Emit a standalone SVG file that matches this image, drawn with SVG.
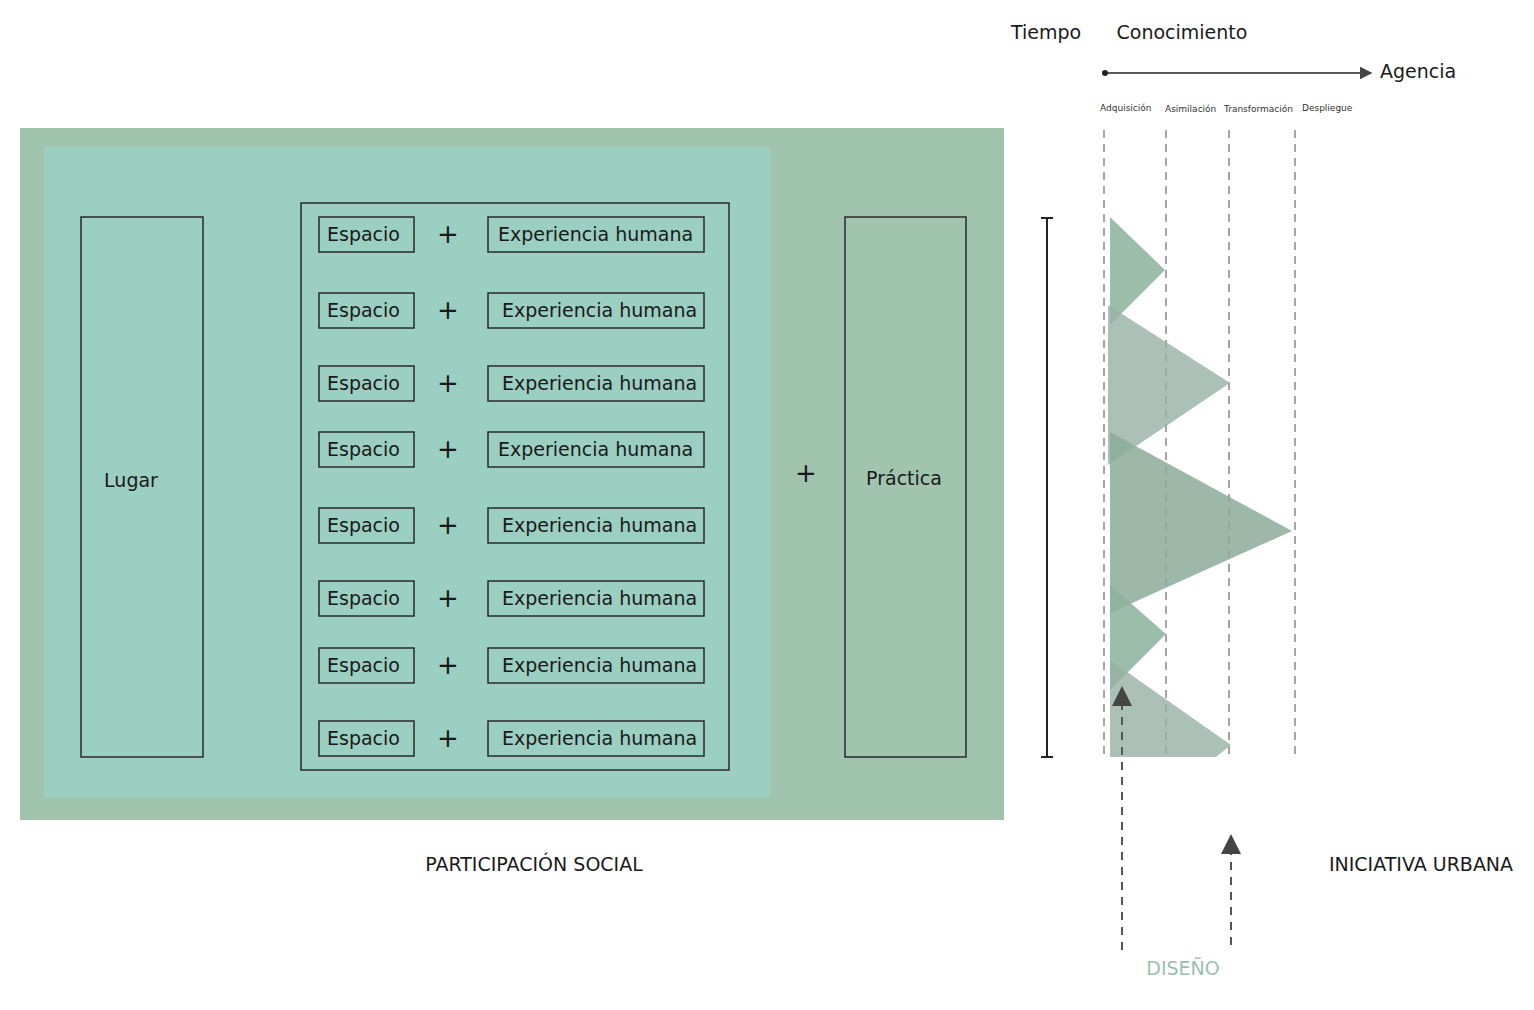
<svg xmlns="http://www.w3.org/2000/svg" width="1534" height="1010" viewBox="0 0 1534 1010">
<style>
text{font-family:"DejaVu Sans","Noto Sans",sans-serif;fill:#1a1a1a}
.b{fill:none;stroke:#2a2a2a;stroke-width:1.5}
.t{font-size:19px}
.p{font-size:26px;text-anchor:middle}
.s{font-size:9px;fill:#333}
.d{stroke:#888;stroke-width:1.5;stroke-dasharray:8 6;fill:none}
.a{stroke:#555;stroke-width:2;stroke-dasharray:8 7;fill:none}
</style>
<defs><marker id="ar" markerWidth="10" markerHeight="10" refX="5" refY="5" orient="auto"><path d="M0,0L10,5L0,10z" fill="#444"/></marker></defs>
<g id="background"><rect x="20" y="128" width="984" height="692" fill="#a0c4ae"/><rect x="44" y="147" width="726" height="650" fill="#9bcfc1"/></g>
<g id="lugar"><rect class="b" x="81" y="217" width="122" height="540"/><text class="t" x="131" y="487" text-anchor="middle">Lugar</text></g>
<g id="grupo"><rect class="b" x="301" y="203" width="428" height="567"/></g>
<g id="filas">
<g transform="translate(0,234)"><rect class="b" x="319" y="-17" width="95" height="35"/><text class="t" x="327" y="7">Espacio</text><text class="p" x="448" y="9">+</text><rect class="b" x="488" y="-17" width="216" height="35"/><text class="t" x="498" y="7">Experiencia humana</text></g>
<g transform="translate(0,310)"><rect class="b" x="319" y="-17" width="95" height="35"/><text class="t" x="327" y="7">Espacio</text><text class="p" x="448" y="9">+</text><rect class="b" x="488" y="-17" width="216" height="35"/><text class="t" x="502" y="7">Experiencia humana</text></g>
<g transform="translate(0,383)"><rect class="b" x="319" y="-17" width="95" height="35"/><text class="t" x="327" y="7">Espacio</text><text class="p" x="448" y="9">+</text><rect class="b" x="488" y="-17" width="216" height="35"/><text class="t" x="502" y="7">Experiencia humana</text></g>
<g transform="translate(0,449)"><rect class="b" x="319" y="-17" width="95" height="35"/><text class="t" x="327" y="7">Espacio</text><text class="p" x="448" y="9">+</text><rect class="b" x="488" y="-17" width="216" height="35"/><text class="t" x="498" y="7">Experiencia humana</text></g>
<g transform="translate(0,525)"><rect class="b" x="319" y="-17" width="95" height="35"/><text class="t" x="327" y="7">Espacio</text><text class="p" x="448" y="9">+</text><rect class="b" x="488" y="-17" width="216" height="35"/><text class="t" x="502" y="7">Experiencia humana</text></g>
<g transform="translate(0,598)"><rect class="b" x="319" y="-17" width="95" height="35"/><text class="t" x="327" y="7">Espacio</text><text class="p" x="448" y="9">+</text><rect class="b" x="488" y="-17" width="216" height="35"/><text class="t" x="502" y="7">Experiencia humana</text></g>
<g transform="translate(0,665)"><rect class="b" x="319" y="-17" width="95" height="35"/><text class="t" x="327" y="7">Espacio</text><text class="p" x="448" y="9">+</text><rect class="b" x="488" y="-17" width="216" height="35"/><text class="t" x="502" y="7">Experiencia humana</text></g>
<g transform="translate(0,738)"><rect class="b" x="319" y="-17" width="95" height="35"/><text class="t" x="327" y="7">Espacio</text><text class="p" x="448" y="9">+</text><rect class="b" x="488" y="-17" width="216" height="35"/><text class="t" x="502" y="7">Experiencia humana</text></g>
</g>
<g id="plus"><text class="p" x="806" y="482">+</text></g>
<g id="practica"><rect class="b" x="845" y="217" width="121" height="540"/><text class="t" x="904" y="485" text-anchor="middle">Práctica</text></g>
<g id="labels"><text class="t" x="534" y="871" text-anchor="middle">PARTICIPACIÓN SOCIAL</text><text class="t" x="1421" y="871" text-anchor="middle">INICIATIVA URBANA</text><text class="t" x="1183" y="975" text-anchor="middle" fill="#9bbfae" style="fill:#9bbfae">DISEÑO</text>
<text class="t" x="1046" y="39" text-anchor="middle">Tiempo</text><text class="t" x="1182" y="39" text-anchor="middle">Conocimiento</text><text class="t" x="1380" y="78">Agencia</text>
<text class="s" x="1100" y="111">Adquisición</text><text class="s" x="1165" y="112">Asimilación</text><text class="s" x="1224" y="112">Transformación</text><text class="s" x="1302" y="111">Despliegue</text></g>
<g id="chart">
<line class="d" x1="1104" y1="130" x2="1104" y2="757"/><line class="d" x1="1166" y1="130" x2="1166" y2="757"/><line class="d" x1="1229" y1="130" x2="1229" y2="757"/><line class="d" x1="1295" y1="130" x2="1295" y2="757"/>
<polygon points="1110,217 1165,270 1110,325" fill="#8cb29c" opacity="0.85"/>
<polygon points="1108,305 1230,383 1108,465" fill="#96b2a5" opacity="0.8"/>
<polygon points="1110,432 1292,531 1110,613" fill="#8cab99" opacity="0.85"/>
<polygon points="1110,585 1166,634 1110,690" fill="#8cb29c" opacity="0.85"/>
<polygon points="1110,660 1231,745 1216,757 1110,757" fill="#96b2a5" opacity="0.8"/>
</g>
<g id="connectors">
<line x1="1105" y1="73" x2="1366" y2="73" stroke="#222" stroke-width="1.3" marker-end="url(#ar)"/><circle cx="1105" cy="73" r="3" fill="#222"/>
<path d="M1041,218H1053M1047,218V757M1041,757H1053" stroke="#222" stroke-width="2" fill="none"/>
<line class="a" x1="1122" y1="950" x2="1122" y2="696" marker-end="url(#ar)"/>
<line class="a" x1="1231" y1="945" x2="1231" y2="844" marker-end="url(#ar)"/>
</g>
</svg>
